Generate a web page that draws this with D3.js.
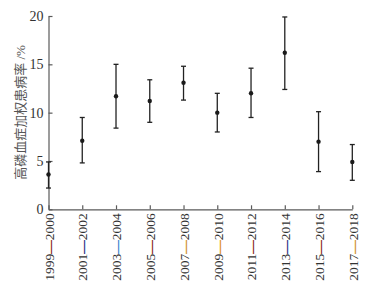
<html>
<head>
<meta charset="utf-8">
<script src="https://d3js.org/d3.v7.min.js"></script>
<style>
  body { margin: 0; background: #fff; }
</style>
</head>
<body>
<div id="chart"></div>
<script>
// periods on the x axis
const periods = ["1999—2000", "2001—2002", "2003—2004", "2005—2006", "2007—2008",
                 "2009—2010", "2011—2012", "2013—2014", "2015—2016", "2017—2018"];
// weighted prevalence (%) and its error bar ends
const rate  = [3.6, 7.1, 11.7, 11.2, 13.1, 10.0, 12.0, 16.2, 7.0, 4.9];
const upper = [4.9, 9.5, 15.0, 13.4, 14.8, 12.0, 14.6, 19.9, 10.1, 6.7];
const lower = [2.2, 4.8, 8.4, 9.0, 11.3, 8.0, 9.5, 12.4, 3.9, 3.0];
const yTicks = [0, 5, 10, 15, 20];
// colour of the dash inside each period label
const dashColors = ["#8b1e1e", "#2b2b86", "#3a7fd0", "#8b1e1e", "#d09030",
                    "#e0901e", "#8b1e1e", "#2b2b86", "#8b1e1e", "#d09030"];

const width = 374, height = 287;
const svg = d3.select("#chart").append("svg")
    .attr("width", width)
    .attr("height", height);

const x = d3.scalePoint()
    .domain(periods)
    .range([48.5, 352.3]);
const y = d3.scaleLinear()
    .domain([0, 20])
    .range([209.3, 16]);

const axisColor = "#5a5a5a";

// y axis, ticks pointing inward
let leftAxis = d3.axisLeft(y).tickValues(yTicks).tickSize(-4).tickSizeOuter(0).tickPadding(5);
let gy = svg.append("g")
    .attr("transform", "translate(" + x(periods[0]) + ",0)")
    .call(leftAxis);
gy.select(".domain").attr("stroke", axisColor).attr("stroke-width", 1.2);
gy.selectAll(".tick line").attr("stroke", axisColor).attr("stroke-width", 1.2);
gy.selectAll(".tick text")
    .attr("font-family", "Liberation Serif")
    .attr("font-size", 14)
    .attr("fill", "#333");

// x axis, ticks pointing up
let bottomAxis = d3.axisBottom(x).tickSize(-4).tickSizeOuter(0).tickFormat("");
let gx = svg.append("g")
    .attr("transform", "translate(0," + y(0) + ")")
    .call(bottomAxis);
gx.select(".domain").attr("stroke", axisColor).attr("stroke-width", 1.2);
gx.selectAll(".tick line").attr("stroke", axisColor).attr("stroke-width", 1.2);

// rotated period labels
let labels = svg.append("g").selectAll("text")
    .data(periods)
    .join("text")
    .attr("transform", d => "translate(" + (x(d) + 0.5) + "," + (y(0) + 4) + ") rotate(-90)")
    .attr("text-anchor", "end")
    .attr("dy", "0.35em")
    .attr("font-family", "Liberation Serif")
    .attr("font-size", 13.5)
    .attr("fill", "#333");
labels.each(function(d, i) {
    const parts = d.split("—");
    const t = d3.select(this);
    t.append("tspan").text(parts[0]);
    t.append("tspan").attr("fill", dashColors[i]).attr("stroke", dashColors[i])
        .attr("stroke-width", 0.4).text("—");
    t.append("tspan").text(parts[1]);
});

// y axis title
svg.append("text")
    .attr("transform", "translate(20," + 112.5 + ") rotate(-90)")
    .attr("text-anchor", "middle")
    .attr("dy", "0.35em")
    .attr("font-family", "Liberation Serif, Noto Sans CJK SC")
    .attr("font-size", 13)
    .attr("fill", "#555")
    .text("高磷血症加权患病率 /%");

// error bars
let bars = svg.append("g").selectAll("g")
    .data(periods)
    .join("g");
bars.append("line")
    .attr("x1", d => x(d)).attr("x2", d => x(d))
    .attr("y1", (d, i) => y(upper[i])).attr("y2", (d, i) => y(lower[i]))
    .attr("stroke", "#222").attr("stroke-width", 1.3);
bars.append("line")
    .attr("x1", d => x(d) - 2.5).attr("x2", d => x(d) + 2.5)
    .attr("y1", (d, i) => y(upper[i])).attr("y2", (d, i) => y(upper[i]))
    .attr("stroke", "#222").attr("stroke-width", 1.3);
bars.append("line")
    .attr("x1", d => x(d) - 2.5).attr("x2", d => x(d) + 2.5)
    .attr("y1", (d, i) => y(lower[i])).attr("y2", (d, i) => y(lower[i]))
    .attr("stroke", "#222").attr("stroke-width", 1.3);
bars.append("circle")
    .attr("cx", d => x(d))
    .attr("cy", (d, i) => y(rate[i]))
    .attr("r", 2.2)
    .attr("fill", "#1a1a1a");
</script>
</body>
</html>
